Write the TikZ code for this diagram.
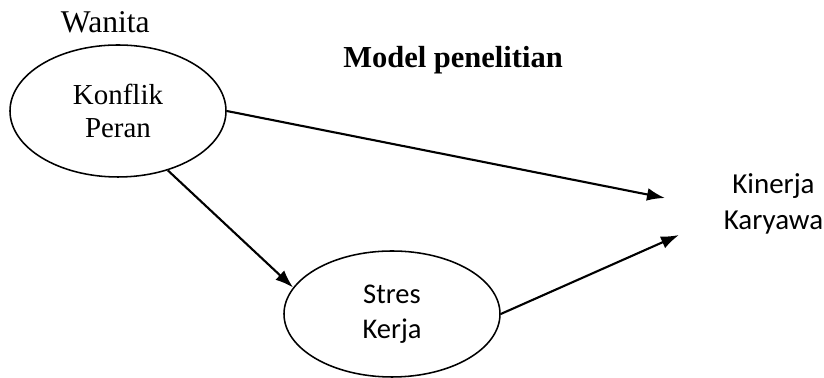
\documentclass[tikz,border=0pt]{standalone}
\usepackage{fontspec}
\setmainfont{Liberation Serif}
\newfontfamily\calibri{Carlito}
\usepackage{tikz}
\usetikzlibrary{shapes.geometric, arrows.meta}

\begin{document}
\begin{tikzpicture}[
		varbox/.style={ellipse, draw=black, line width=1.1pt, inner sep=0pt, minimum width=5.4cm, align=center},
		pathline/.style={line width=1.5pt, -{Latex[length=0.45cm, width=0.32cm]}}
	]
			\useasboundingbox (0,0) rectangle (20.6,9.45);
			\node[anchor=base west, font=\fontsize{22.5}{26}\selectfont] (wanita) at (1.4,8.625) {Wanita};
			\node[anchor=base, font=\fontsize{21.7}{26}\selectfont\bfseries] (judul) at (11.325,7.75) {Model penelitian};
			
			\node[varbox, minimum height=3.3cm, font=\fontsize{20.6}{23.5}\selectfont] (konflik) at (2.95,6.675) {Konflik\\Peran};
			\node[varbox, minimum height=3.15cm, font=\fontsize{20.3}{24.8}\calibri] (stres) at (9.8,1.6) {Stres\\Kerja};
			\node[align=center, inner sep=0pt, font=\fontsize{20.6}{25.6}\calibri] (kinerja) at (19.3375,4.3625) {Kinerja\\Karyawa};
			
			\coordinate (tipatas) at (16.625,4.5);
			\coordinate (tipbawah) at (16.975,3.575);
			
			\draw[pathline] (konflik.east) -- (tipatas);
			\draw[pathline] (konflik.-50) -- (stres.165);
			\draw[pathline] (stres.east) -- (tipbawah);
		\end{tikzpicture}
\end{document}
